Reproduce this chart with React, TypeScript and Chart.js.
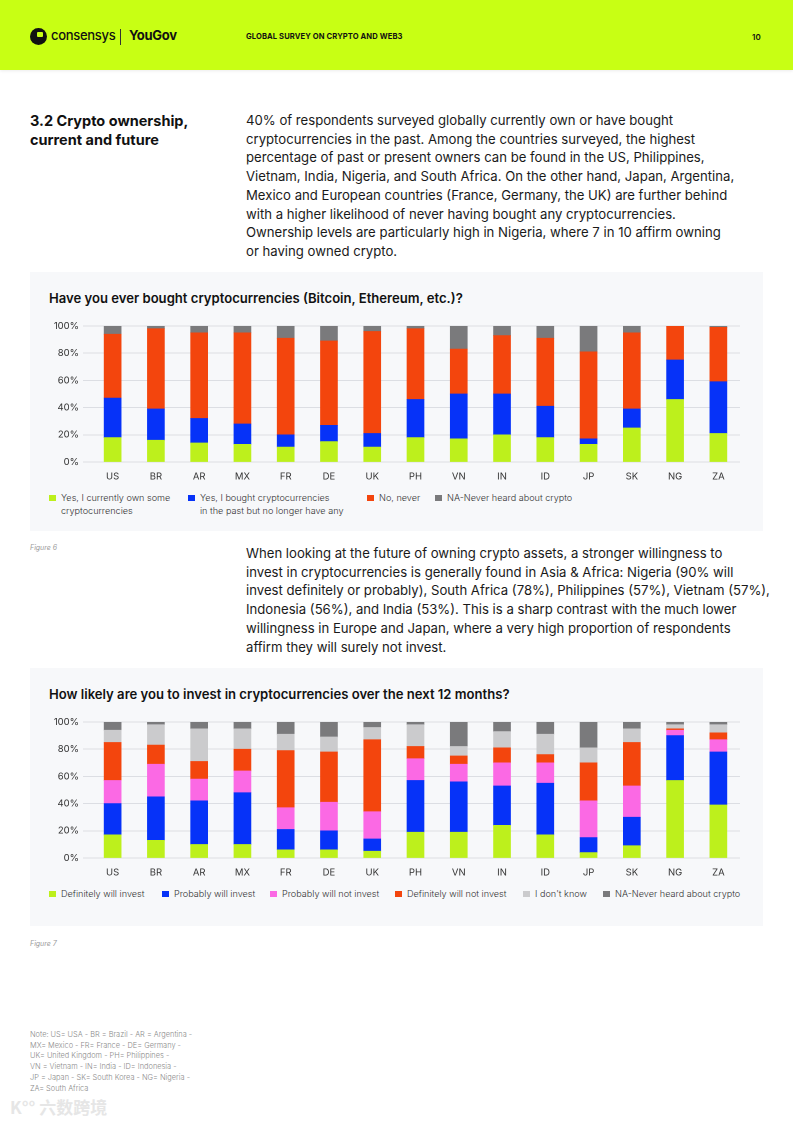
import React, { useEffect, useRef } from "react";
import { Chart, registerables } from "chart.js";

Chart.register(...registerables);

const countries = ["US", "BR", "AR", "MX", "FR", "DE", "UK", "PH", "VN", "IN", "ID", "JP", "SK", "NG", "ZA"];
const yTicks = [0, 20, 40, 60, 80, 100];

// Figure 6
const ownLabel = ["Yes, I currently own some", "cryptocurrencies"];
const pastLabel = ["Yes, I bought cryptocurrencies", "in the past but no longer have any"];
const neverLabel = ["No, never"];
const naLabel1 = ["NA-Never heard about crypto"];
const ownNow = [18, 16, 14, 13, 11, 15, 11, 18, 17, 20, 18, 13, 25, 46, 21];
const ownPast = [29, 23, 18, 15, 9, 12, 10, 28, 33, 30, 23, 4, 14, 29, 38];
const neverBought = [47, 59, 63, 67, 71, 62, 75, 52, 33, 43, 50, 64, 56, 25, 40];
const neverHeard1 = [6, 2, 5, 5, 9, 11, 4, 2, 17, 7, 9, 19, 5, 0, 1];

// Figure 7
const defLabel = "Definitely will invest";
const probLabel = "Probably will invest";
const probNotLabel = "Probably will not invest";
const defNotLabel = "Definitely will not invest";
const dkLabel = "I don't know";
const naLabel2 = "NA-Never heard about crypto";
const definitely = [17, 13, 10, 10, 6, 6, 5, 19, 19, 24, 17, 4, 9, 57, 39];
const probably = [23, 32, 32, 38, 15, 14, 9, 38, 37, 29, 38, 11, 21, 33, 39];
const probablyNot = [17, 24, 16, 16, 16, 21, 20, 16, 13, 17, 15, 27, 23, 4, 9];
const definitelyNot = [28, 14, 13, 16, 42, 37, 53, 9, 6, 11, 6, 28, 32, 1, 5];
const dontKnow = [9, 15, 24, 15, 12, 11, 9, 16, 7, 12, 15, 11, 10, 3, 6];
const neverHeard2 = [6, 2, 5, 5, 9, 11, 4, 2, 18, 7, 9, 19, 5, 2, 2];

const C_LIME = "#bdf01c";
const C_BLUE = "#0632f8";
const C_ORANGE = "#f3450d";
const C_GRAY = "#7a7a7c";
const C_PINK = "#fb69e4";
const C_LIGHT = "#cbcbcd";

const FONT = "Inter, 'Noto Sans', sans-serif";

type DS = { label: string; data: number[]; color: string };

function StackedChart({ datasets, top }: { datasets: DS[]; top: number }) {
  const ref = useRef<HTMLCanvasElement | null>(null);
  useEffect(() => {
    if (!ref.current) return;
    const chart = new Chart(ref.current, {
      type: "bar",
      data: {
        labels: countries,
        datasets: datasets.map((d) => ({
          label: d.label,
          data: d.data,
          backgroundColor: d.color,
          borderWidth: 0,
          barThickness: 17,
        })),
      },
      options: {
        responsive: false,
        maintainAspectRatio: false,
        animation: false,
        devicePixelRatio: 2,
        layout: { padding: { top: 10, right: 23, left: 0, bottom: 0 } },
        plugins: { legend: { display: false }, tooltip: { enabled: false } },
        scales: {
          x: {
            stacked: true,
            grid: { display: false, drawTicks: false },
            border: { display: false },
            ticks: { color: "#333", font: { family: FONT, size: 9.5 }, padding: 9 },
            afterFit: (s: any) => {
              s.height = 24;
            },
          },
          y: {
            stacked: true,
            min: 0,
            max: 100,
            afterBuildTicks: (s: any) => {
              s.ticks = yTicks.map((v) => ({ value: v }));
            },
            ticks: {
              color: "#333",
              font: { family: FONT, size: 9.5 },
              padding: 4,
              callback: (v: any) => v + "%",
            },
            grid: { color: "#dcdee3", lineWidth: 1, tickLength: 8 },
            border: { display: false },
            afterFit: (s: any) => {
              s.width = 61;
            },
          },
        },
      },
    });
    return () => chart.destroy();
  }, []);
  return (
    <canvas
      ref={ref}
      width={733}
      height={170}
      style={{ position: "absolute", left: 30, top, width: 733, height: 170 }}
    />
  );
}

function LegendItem({ x, y, color, lines }: { x: number; y: number; color: string; lines: string[] }) {
  return (
    <div style={{ position: "absolute", left: x, top: y }}>
      <div style={{ position: "absolute", left: 0, top: 2.5, width: 6.5, height: 6.5, background: color }} />
      <div
        style={{
          position: "absolute",
          left: 12,
          top: 0,
          fontSize: 9.1,
          lineHeight: "12.5px",
          color: "#333",
          whiteSpace: "nowrap",
          fontFamily: FONT,
          fontWeight: 300,
        }}
      >
        {lines.map((l, i) => (
          <div key={i}>{l}</div>
        ))}
      </div>
    </div>
  );
}

const para1 = [
  "40% of respondents surveyed globally currently own or have bought",
  "cryptocurrencies in the past. Among the countries surveyed, the highest",
  "percentage of past or present owners can be found in the US, Philippines,",
  "Vietnam, India, Nigeria, and South Africa. On the other hand, Japan, Argentina,",
  "Mexico and European countries (France, Germany, the UK) are further behind",
  "with a higher likelihood of never having bought any cryptocurrencies.",
  "Ownership levels are particularly high in Nigeria, where 7 in 10 affirm owning",
  "or having owned crypto.",
];
const para2 = [
  "When looking at the future of owning crypto assets, a stronger willingness to",
  "invest in cryptocurrencies is generally found in Asia & Africa: Nigeria (90% will",
  "invest definitely or probably), South Africa (78%), Philippines (57%), Vietnam (57%),",
  "Indonesia (56%), and India (53%). This is a sharp contrast with the much lower",
  "willingness in Europe and Japan, where a very high proportion of respondents",
  "affirm they will surely not invest.",
];
const noteLines = [
  "Note: US= USA - BR = Brazil - AR = Argentina -",
  "MX= Mexico - FR= France - DE= Germany -",
  "UK= United Kingdom - PH= Philippines -",
  "VN = Vietnam - IN= India - ID= Indonesia -",
  "JP = Japan - SK= South Korea - NG= Nigeria -",
  "ZA= South Africa",
];

function Para({ lines, top }: { lines: string[]; top: number }) {
  return (
    <div
      style={{
        position: "absolute",
        left: 246,
        top,
        fontSize: 13.15,
        lineHeight: "18.7px",
        color: "#1a1a1a",
        fontFamily: FONT,
        whiteSpace: "nowrap",
      }}
    >
      {lines.map((l, i) => (
        <div key={i}>{l}</div>
      ))}
    </div>
  );
}

export default function App() {
  const fig6: DS[] = [
    { label: ownLabel.join(" "), data: ownNow, color: C_LIME },
    { label: pastLabel.join(" "), data: ownPast, color: C_BLUE },
    { label: neverLabel[0], data: neverBought, color: C_ORANGE },
    { label: naLabel1[0], data: neverHeard1, color: C_GRAY },
  ];
  const fig7: DS[] = [
    { label: defLabel, data: definitely, color: C_LIME },
    { label: probLabel, data: probably, color: C_BLUE },
    { label: probNotLabel, data: probablyNot, color: C_PINK },
    { label: defNotLabel, data: definitelyNot, color: C_ORANGE },
    { label: dkLabel, data: dontKnow, color: C_LIGHT },
    { label: naLabel2, data: neverHeard2, color: C_GRAY },
  ];
  return (
    <div
      style={{
        position: "absolute",
        left: 0,
        top: 0,
        width: 793,
        height: 1122,
        background: "#fff",
        fontFamily: FONT,
        overflow: "hidden",
      }}
    >
      {/* header */}
      <div
        style={{
          position: "absolute",
          left: 0,
          top: 0,
          width: 793,
          height: 70,
          background: "#c8ff14",
          boxShadow: "0 1px 3px rgba(0,0,0,0.08)",
        }}
      >
        <div
          style={{
            position: "absolute",
            left: 30,
            top: 28,
            width: 17,
            height: 17,
            borderRadius: "50%",
            background: "#111",
          }}
        >
          <div style={{ position: "absolute", left: 7, top: 4, width: 6, height: 5, background: "#c8ff14", borderRadius: 1 }} />
        </div>
        <div style={{ position: "absolute", left: 51, top: 27, fontSize: 13, fontWeight: 500, color: "#111", letterSpacing: -0.3 }}>
          consensys
        </div>
        <div style={{ position: "absolute", left: 120, top: 29, width: 1, height: 16, background: "#333" }} />
        <div style={{ position: "absolute", left: 129, top: 27, fontSize: 13, fontWeight: 700, color: "#111", letterSpacing: -0.3 }}>
          YouGov
        </div>
        <div style={{ position: "absolute", left: 246, top: 32, fontSize: 7.6, fontWeight: 700, color: "#111", letterSpacing: 0.1 }}>
          GLOBAL SURVEY ON CRYPTO AND WEB3
        </div>
        <div style={{ position: "absolute", left: 752, top: 32, fontSize: 8, fontWeight: 600, color: "#111" }}>10</div>
      </div>

      {/* section title */}
      <div
        style={{
          position: "absolute",
          left: 30,
          top: 111,
          fontSize: 14.5,
          lineHeight: "19px",
          fontWeight: 700,
          color: "#111",
          whiteSpace: "nowrap",
        }}
      >
        <div>3.2 Crypto ownership,</div>
        <div>current and future</div>
      </div>

      <Para lines={para1} top={111} />

      {/* card 1 */}
      <div style={{ position: "absolute", left: 30, top: 272, width: 733, height: 259, background: "#f7f8fa" }} />
      <div style={{ position: "absolute", left: 49, top: 290, fontSize: 13.1, fontWeight: 600, color: "#111", whiteSpace: "nowrap" }}>
        Have you ever bought cryptocurrencies (Bitcoin, Ethereum, etc.)?
      </div>
      <StackedChart datasets={fig6} top={316} />
      <LegendItem x={49} y={492} color={C_LIME} lines={ownLabel} />
      <LegendItem x={188} y={492} color={C_BLUE} lines={pastLabel} />
      <LegendItem x={367} y={492} color={C_ORANGE} lines={neverLabel} />
      <LegendItem x={435} y={492} color={C_GRAY} lines={naLabel1} />

      <div style={{ position: "absolute", left: 30, top: 543, fontSize: 7, fontStyle: "italic", color: "#999" }}>Figure 6</div>

      <Para lines={para2} top={544} />

      {/* card 2 */}
      <div style={{ position: "absolute", left: 30, top: 668, width: 733, height: 258, background: "#f7f8fa" }} />
      <div style={{ position: "absolute", left: 49, top: 686, fontSize: 13.1, fontWeight: 600, color: "#111", whiteSpace: "nowrap" }}>
        How likely are you to invest in cryptocurrencies over the next 12 months?
      </div>
      <StackedChart datasets={fig7} top={712} />
      <LegendItem x={49} y={888} color={C_LIME} lines={[defLabel]} />
      <LegendItem x={162} y={888} color={C_BLUE} lines={[probLabel]} />
      <LegendItem x={270} y={888} color={C_PINK} lines={[probNotLabel]} />
      <LegendItem x={395} y={888} color={C_ORANGE} lines={[defNotLabel]} />
      <LegendItem x={523} y={888} color={C_LIGHT} lines={[dkLabel]} />
      <LegendItem x={603} y={888} color={C_GRAY} lines={[naLabel2]} />

      <div style={{ position: "absolute", left: 30, top: 939, fontSize: 7, fontStyle: "italic", color: "#999" }}>Figure 7</div>

      {/* note */}
      <div
        style={{
          position: "absolute",
          left: 30,
          top: 1030,
          fontSize: 7.4,
          lineHeight: "10.7px",
          color: "#8a8a8a",
          whiteSpace: "nowrap",
          fontWeight: 300,
        }}
      >
        {noteLines.map((l, i) => (
          <div key={i}>{l}</div>
        ))}
      </div>
      <div
        style={{
          position: "absolute",
          left: 10,
          top: 1094,
          fontSize: 17,
          fontWeight: 700,
          color: "#e6e6e6",
          fontFamily: "'Noto Sans CJK SC', sans-serif",
          whiteSpace: "nowrap",
        }}
      >
        K°° 六数跨境
      </div>
    </div>
  );
}
